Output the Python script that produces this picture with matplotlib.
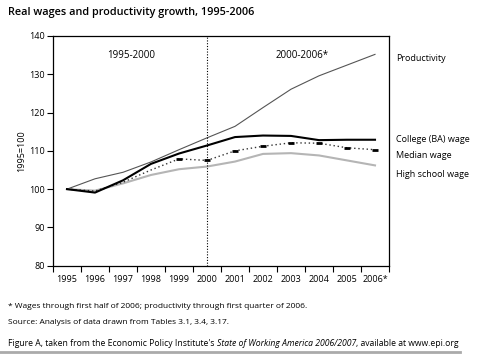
import matplotlib
matplotlib.use("Agg")
import matplotlib.pyplot as plt
import numpy as np

# data (index 1995 = 100)
years = ["1995", "1996", "1997", "1998", "1999", "2000",
         "2001", "2002", "2003", "2004", "2005", "2006*"]
productivity = [100, 102.7, 104.4, 107.1, 110.3, 113.4, 116.4, 121.3, 126.1, 129.6, 132.4, 135.2]
college_wage = [100, 99.1, 102.3, 106.6, 109.3, 111.4, 113.6, 114.0, 113.9, 112.8, 112.9, 112.9]
median_wage = [100, 99.5, 101.8, 105.0, 107.9, 107.5, 110.0, 111.2, 112.1, 112.0, 110.8, 110.3]
hs_wage = [100, 99.6, 101.5, 103.7, 105.2, 105.9, 107.2, 109.2, 109.4, 108.8, 107.5, 106.2]
yticks = [80, 90, 100, 110, 120, 130, 140]

plt.rcParams['font.family'] = ['Open Sans', 'DejaVu Sans']

fig = plt.figure(figsize=(4.78, 3.54), dpi=100)
ax = fig.add_axes([53 / 478, 1 - 265.7 / 354, 336 / 478, 229.7 / 354])

x = np.arange(len(years))
ax.plot(x, productivity, color='#555555', lw=0.8)
ax.plot(x, hs_wage, color='#b5b5b5', lw=1.5)
ax.plot(x, median_wage, color='#333333', lw=1.0, ls=(0, (1, 2)),
        marker='_', ms=5, mew=2, mec='black', markevery=list(range(4, len(years))))
ax.plot(x, college_wage, color='black', lw=1.5)

ax.axvline(5, color='black', lw=0.8, ls=(0, (1, 1.5)))

ax.set_xlim(-0.5, len(years) - 0.5)
ax.set_ylim(80, 140)
ax.set_yticks(yticks)
ax.set_yticklabels([str(v) for v in yticks], fontsize=6.5)
ax.set_xticks(x)
ax.set_xticklabels(years, fontsize=6.5)
ax.set_xticks(np.arange(len(years) + 1) - 0.5, minor=True)
ax.tick_params(axis='x', which='major', length=0, pad=7)
ax.tick_params(axis='x', which='minor', length=4, width=0.8)
ax.tick_params(axis='y', length=4, width=0.8, pad=2)
for s in ax.spines.values():
    s.set_linewidth(0.9)
ax.set_ylabel("1995=100", fontsize=6.5, labelpad=2)

ax.text(2.3, 135, "1995-2000", ha='center', va='center', fontsize=7)
ax.text(8.4, 135, "2000-2006*", ha='center', va='center', fontsize=7)

# series labels to the right of the plot
right_labels = [("Productivity", 134.2), ("College (BA) wage", 112.9),
                ("Median wage", 108.7), ("High school wage", 103.7)]
for lab, yv in right_labels:
    ax.text(11.75, yv, lab, ha='left', va='center', fontsize=6.5, clip_on=False)

fig.text(8 / 478, 1 - 13 / 354, "Real wages and productivity growth, 1995-2006",
         fontsize=7.8, fontweight='semibold', va='center', ha='left')

fig.text(8 / 478, 1 - 306 / 354,
         "* Wages through first half of 2006; productivity through first quarter of 2006.",
         fontsize=6, va='center', ha='left')
fig.text(8 / 478, 1 - 322 / 354,
         "Source: Analysis of data drawn from Tables 3.1, 3.4, 3.17.",
         fontsize=6, va='center', ha='left')

# bottom credit line with italic title in the middle
renderer = fig.canvas.get_renderer()
xpos = 8 / 478
ypos = 1 - 344 / 354
for part, style in [("Figure A, taken from the Economic Policy Institute's ", 'normal'),
                    ("State of Working America 2006/2007", 'italic'),
                    (", available at www.epi.org", 'normal')]:
    t = fig.text(xpos, ypos, part, fontsize=6.2, style=style, va='center', ha='left')
    bb = t.get_window_extent(renderer)
    xpos += bb.width / fig.bbox.width

fig.add_artist(plt.Line2D([0, 460 / 478], [1 - 351.5 / 354] * 2, color='#aaaaaa', lw=2))

fig.savefig("out.png", dpi=100)
